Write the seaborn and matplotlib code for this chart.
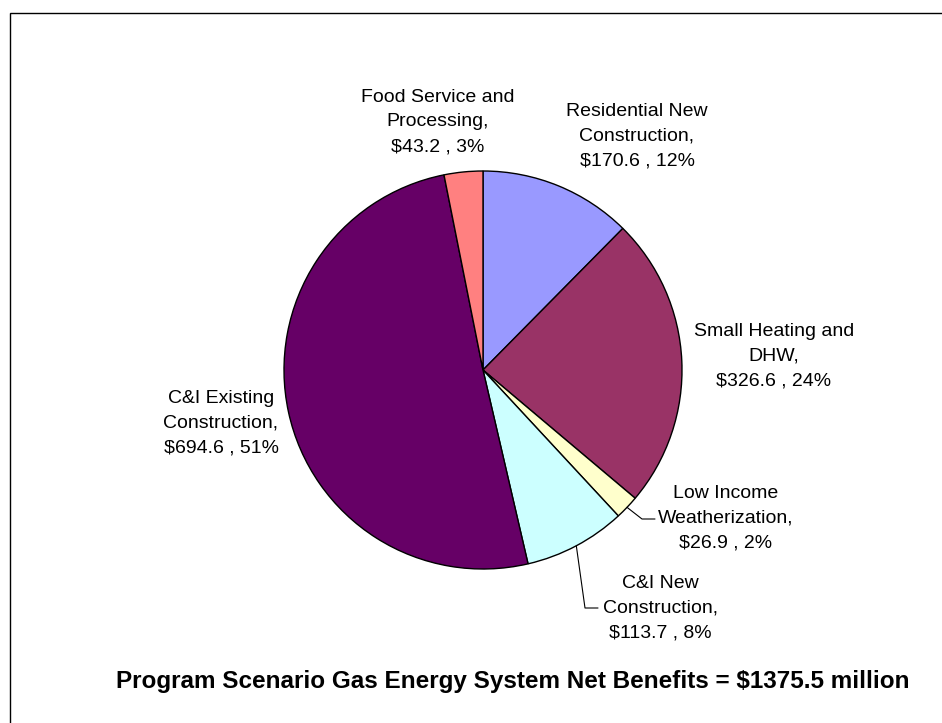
import matplotlib
matplotlib.use("Agg")
import matplotlib.pyplot as plt
import numpy as np
import seaborn as sns
from matplotlib.patches import Rectangle

# Net benefits by program ($ million), in clockwise order from 12 o'clock
programs = [
    "Residential New\nConstruction",
    "Small Heating and\nDHW",
    "Low Income\nWeatherization",
    "C&I New\nConstruction",
    "C&I Existing\nConstruction",
    "Food Service and\nProcessing",
]
benefits = [170.6, 326.6, 26.9, 113.7, 694.6, 43.2]
shares = [12, 24, 2, 8, 51, 3]
total_benefits = 1375.5
colors = ["#9999FF", "#993366", "#FFFFCC", "#CCFFFF", "#660066", "#FF8080"]

sns.set_theme(style="white")
plt.rcParams["font.family"] = ["Liberation Sans", "DejaVu Sans"]

W, H = 942, 723
fig = plt.figure(figsize=(W / 100, H / 100), dpi=100)
ax = fig.add_axes([0, 0, 1, 1])

cx, cy, r = 483, H - 370, 199
wedges, _ = ax.pie(
    benefits,
    colors=colors,
    startangle=90,
    counterclock=False,
    center=(cx, cy),
    radius=r,
    wedgeprops=dict(edgecolor="black", linewidth=1.0),
)
ax.set_xlim(0, W)
ax.set_ylim(0, H)
ax.set_aspect("equal")
ax.axis("off")

# label centres in pixel coordinates (x, y from top)
label_pos = [(637, 136), (774, 356), (726, 518), (660, 608), (221, 423), (438, 122)]
for name, val, pct, (lx, ly) in zip(programs, benefits, shares, label_pos):
    ax.text(lx, H - ly, f"{name},\n${val:.1f} , {pct}%", ha="center", va="center",
            multialignment="center", fontsize=14, linespacing=1.58, color="black")

# leader lines for the two small lower-right slices
leaders = {2: ((642, 519), (655, 519)), 3: ((585, 608), (598, 608))}
for idx, (elbow, end) in leaders.items():
    w = wedges[idx]
    mid = np.deg2rad((w.theta1 + w.theta2) / 2)
    sx, sy = cx + r * np.cos(mid), cy + r * np.sin(mid)
    ax.plot([sx, elbow[0], end[0]], [sy, H - elbow[1], H - end[1]],
            color="black", linewidth=0.8)

ax.text(513, H - 688,
        f"Program Scenario Gas Energy System Net Benefits = ${total_benefits:.1f} million",
        ha="center", va="baseline", fontsize=17.5, fontweight="bold", color="black")

# chart area border
ax.add_patch(Rectangle((10, -20), W + 20, H - 13 + 20, fill=False,
                       edgecolor="black", linewidth=1.0))

fig.savefig("out.png", dpi=100, facecolor="white")
